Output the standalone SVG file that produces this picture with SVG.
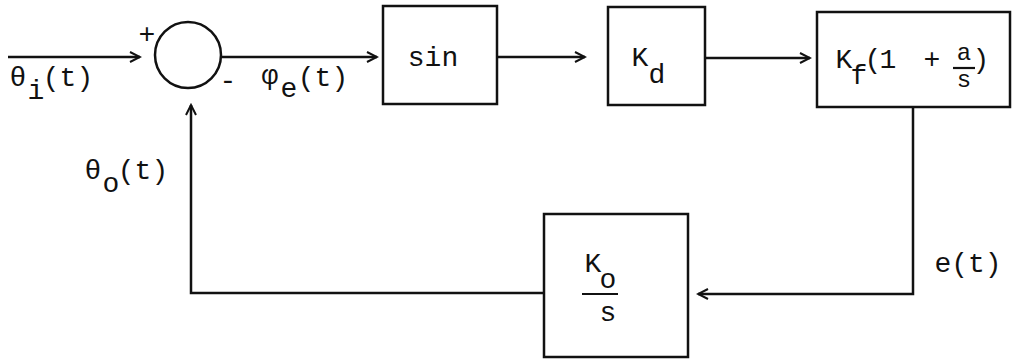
<svg xmlns="http://www.w3.org/2000/svg" width="1012" height="360" viewBox="0 0 1012 360">
<style>
  .box { fill: none; stroke: #111; stroke-width: 2.5; }
  .wire { fill: none; stroke: #111; stroke-width: 2.5; }
  .bar { stroke: #111; stroke-width: 2.2; }
  text { font-family: "Liberation Mono", "DejaVu Sans Mono", monospace; font-size: 28px; fill: #111; text-anchor: middle; }
  .frac { font-size: 24px; }
</style>
<defs>
  <marker id="arr" viewBox="-12 -7 14 14" refX="0" refY="0" markerWidth="14" markerHeight="14" markerUnits="userSpaceOnUse" orient="auto">
    <path d="M-10,-5 L0,0 L-10,5" fill="none" stroke="#111" stroke-width="2"/>
  </marker>
</defs>
<rect width="1012" height="360" fill="#fff"/>

<g id="connectors">
  <path class="wire" d="M8,57 H140" marker-end="url(#arr)"/>
  <path class="wire" d="M222,57 H377" marker-end="url(#arr)"/>
  <path class="wire" d="M497,57 H585" marker-end="url(#arr)"/>
  <path class="wire" d="M705,58 H810" marker-end="url(#arr)"/>
  <path class="wire" d="M913,107 V294 H698" marker-end="url(#arr)"/>
  <path class="wire" d="M544,293 H191 V105" marker-end="url(#arr)"/>
</g>

<g id="labels">
  <text><tspan x="18" y="86">θ</tspan><tspan x="36" y="99">i</tspan><tspan x="68" y="86">(t)</tspan></text>
  <text><tspan x="270" y="84">φ</tspan><tspan x="289" y="97">e</tspan><tspan x="323" y="86">(t)</tspan></text>
  <text><tspan x="93" y="179">θ</tspan><tspan x="111" y="192">o</tspan><tspan x="143" y="179">(t)</tspan></text>
  <text x="968" y="272">e(t)</text>
</g>

<g id="summer">
  <circle cx="188" cy="55" r="33" class="box"/>
  <text x="147" y="43">+</text>
  <text x="228" y="89">-</text>
</g>

<g id="sin">
  <rect x="383" y="6" width="114" height="98" class="box"/>
  <text x="433" y="66">sin</text>
</g>

<g id="kd">
  <rect x="608" y="7" width="97" height="98" class="box"/>
  <text><tspan x="640" y="66">K</tspan><tspan x="657" y="83">d</tspan></text>
</g>

<g id="kf">
  <rect x="817" y="12" width="193" height="95" class="box"/>
  <text><tspan x="844" y="68">K</tspan><tspan x="859" y="84">f</tspan><tspan x="873" y="68">(</tspan><tspan x="888" y="68">1</tspan><tspan x="932" y="68">+</tspan><tspan class="frac" x="964" y="60">a</tspan><tspan class="frac" x="964" y="87">s</tspan><tspan x="981" y="68">)</tspan></text>
  <line x1="953" y1="68" x2="975" y2="68" class="bar"/>
</g>

<g id="ko">
  <rect x="544" y="214" width="144" height="143" class="box"/>
  <text><tspan x="593" y="272">K</tspan><tspan x="608" y="288">o</tspan><tspan x="608" y="321">s</tspan></text>
  <line x1="582" y1="294" x2="618" y2="294" class="bar"/>
</g>
</svg>
